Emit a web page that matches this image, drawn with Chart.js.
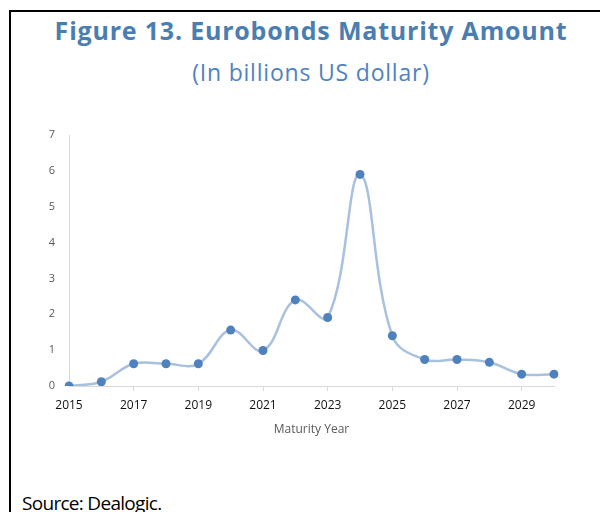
<!DOCTYPE html>
<html>
<head>
<meta charset="utf-8">
<script src="https://cdn.jsdelivr.net/npm/chart.js@4"></script>
<style>
  html, body { margin: 0; padding: 0; background: #fff; }
  body { width: 600px; height: 512px; position: relative; overflow: hidden; font-family: "Open Sans", sans-serif; }
  .frame { position: absolute; left: 9px; top: 10px; right: -10px; bottom: -10px; border-top: 2px solid #000; border-left: 2px solid #000; }
  .title { position: absolute; left: 0; width: 622px; text-align: center; white-space: nowrap; line-height: 1; }
  #title { top: 18px; font-size: 25px; font-weight: 700; letter-spacing: 0.8px; color: #4a7eb0; }
  #subtitle { top: 61px; font-size: 23px; letter-spacing: 0.8px; color: #4f82c0; }
  #source { position: absolute; left: 22px; top: 494px; font-size: 19px; letter-spacing: -0.7px; line-height: 1; color: #000; white-space: nowrap; }
  .chart-box { position: absolute; left: 0; top: 120px; width: 600px; height: 330px; }
</style>
</head>
<body>
<div class="frame"></div>
<div class="title" id="title">Figure 13. Eurobonds Maturity Amount</div>
<div class="title" id="subtitle">(In billions US dollar)</div>
<div class="chart-box"><canvas id="maturityChart"></canvas></div>
<div id="source">Source: Dealogic.</div>

<script>
// Eurobond maturities per year, billions USD
const years = ["2015", "2016", "2017", "2018", "2019", "2020", "2021", "2022",
               "2023", "2024", "2025", "2026", "2027", "2028", "2029", "2030"];
const amounts = [0, 0.12, 0.62, 0.62, 0.62, 1.56, 0.99, 2.40,
                 1.91, 5.90, 1.40, 0.74, 0.74, 0.66, 0.33, 0.33];
const yTicks = [0, 1, 2, 3, 4, 5, 6, 7];

const axisGrey = "#d9d9d9";
const clear = "rgba(0,0,0,0)";

const ctx = document.getElementById("maturityChart").getContext("2d");
new Chart(ctx, {
  type: "line",
  data: {
    labels: years,
    datasets: [
      {
        label: "Maturity amount",
        data: amounts,
        borderColor: "#a7c1df",
        borderWidth: 2.5,
        tension: 0.4,
        pointRadius: 4.5,
        pointBackgroundColor: "#4f81bd",
        pointBorderColor: "#4f81bd",
        pointBorderWidth: 0,
        fill: false,
      },
    ],
  },
  options: {
    responsive: true,
    maintainAspectRatio: false,
    animation: false,
    // fixed plot box; don't let tick labels push it around
    layout: { autoPadding: false, padding: { top: 15, right: 46, left: 0, bottom: 0 } },
    plugins: {
      legend: { display: false },
      tooltip: { enabled: false },
    },
    scales: {
      x: {
        type: "category",
        offset: false,
        afterFit: (scale) => { scale.height = 64; },
        border: { color: axisGrey, width: 1 },
        grid: {
          drawOnChartArea: false,
          tickLength: 5,
          color: (c) => (c.index === 0 ? clear : axisGrey),
        },
        ticks: {
          autoSkip: false,
          maxRotation: 0,
          padding: 7,
          color: "#111",
          font: { family: "Open Sans", size: 12 },
          // label every other year, starting at 2015
          callback: function (value, index) {
            return index % 2 === 0 ? this.getLabelForValue(value) : null;
          },
        },
        title: {
          display: true,
          text: "Maturity Year",
          color: "#595959",
          font: { family: "Open Sans", size: 12 },
          padding: { top: 4, bottom: 13 },
        },
      },
      y: {
        min: 0,
        max: 7,
        afterFit: (scale) => { scale.width = 69; },
        afterBuildTicks: (scale) => { scale.ticks = yTicks.map((v) => ({ value: v })); },
        border: { color: axisGrey, width: 1 },
        // invisible tick marks just set the gap between labels and axis
        grid: { drawOnChartArea: false, tickLength: 11, color: clear, tickColor: clear },
        ticks: {
          padding: 3,
          color: "#595959",
          font: { family: "Open Sans", size: 11 },
        },
      },
    },
  },
});
</script>
</body>
</html>
